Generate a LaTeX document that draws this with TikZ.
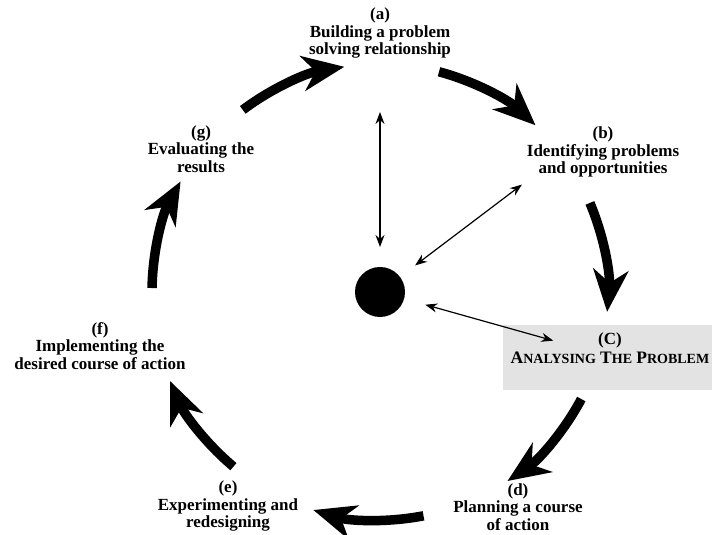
\documentclass[tikz,border=0pt]{standalone}
\usepackage{fontspec}
\setmainfont{Liberation Serif}
\usetikzlibrary{arrows.meta,calc}

\tikzset{
  stage/.style={align=center, inner sep=1pt,
    font=\bfseries\fontsize{17}{17.5}\selectfont},
  turn/.style={line width=9.5pt,
    -{Stealth[length=42pt,width=35pt,inset=13pt]}},
  link/.style={line width=1.2pt,
    {Stealth[length=12pt,width=9pt]}-{Stealth[length=12pt,width=9pt]}},
  backdrop/.style={fill=gray!22, inner sep=0pt, anchor=south west,
    minimum width=215pt, minimum height=65pt},
}
\newcommand{\smcap}[2]{{\fontsize{17.5}{19}\selectfont #1}{\fontsize{14}{19}\selectfont #2}}

\begin{document}
\begin{tikzpicture}[x=1pt,y=1pt]
  \useasboundingbox (0,0) rectangle (712,535);

  % hub
  \node[circle, fill=black, minimum size=50pt, inner sep=0pt] (hub) at (380,243) {};

  % shaded stage (C)
  \node[backdrop] (cbox) at (503,145) {};

  % stages
  \node[stage] (a) at (380,502) {(a)\\Building a problem\\solving relationship};
  \node[stage] (b) at (603,383) {(b)\\Identifying problems\\and opportunities};
  \node[stage] (c) at (610,187) {(C)\\[1.5pt]\smcap{A}{NALYSING} \smcap{T}{HE} \smcap{P}{ROBLEM}};
  \node[stage] (d) at (518,28) {(d)\\Planning a course\\of action};
  \node[stage] (e) at (228,29) {(e)\\Experimenting and\\redesigning};
  \node[stage] (f) at (100,189) {(f)\\Implementing the\\desired course of action};
  \node[stage] (g) at (201,386) {(g)\\Evaluating the\\results};

  % cycle
  \foreach \from/\to in {127/99, 75/47, 23/-5, -28/-56, -79/-107, 230/203, 179/151}
    \draw[turn] (hub.center) ++(\from:228) arc[start angle=\from, end angle=\to, radius=228];

  % links to the hub
  \draw[link] ($(hub)!45pt!(a)$) -- ($(hub)!180pt!(a)$);
  \draw[link] ($(hub)!44pt!5:(b)$) -- ($(hub)!178pt!5:(b)$);
  \draw[link] ($(hub)!47pt!-2:(c)$) -- ($(hub)!180pt!-2:(c)$);
\end{tikzpicture}
\end{document}
